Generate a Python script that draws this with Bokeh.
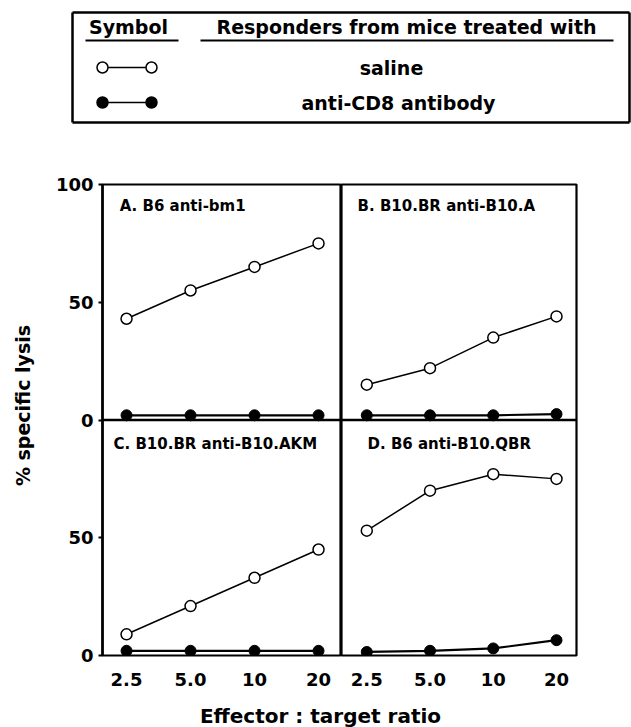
import math
from bokeh.plotting import figure
from bokeh.layouts import column, row
from bokeh.models import Range1d, FixedTicker, Label, Span
from bokeh.embed import file_html
from bokeh.resources import INLINE
from bokeh.core.properties import value

# ---------------- data ----------------
ratios = [2.5, 5, 10, 20]
tick_labels = ["2.5", "5.0", "10", "20"]
y_ticks = [0, 50, 100]
y_tick_labels = ["0", "50", "100"]
panel_titles = ["A. B6 anti-bm1", "B. B10.BR anti-B10.A",
                "C. B10.BR anti-B10.AKM", "D. B6 anti-B10.QBR"]
saline_A = [43, 55, 65, 75]
cd8_A = [2, 2, 2, 2]
saline_B = [15, 22, 35, 44]
cd8_B = [2, 2, 2, 2.5]
saline_C = [9, 21, 33, 45]
cd8_C = [2, 2, 2, 2]
saline_D = [53, 70, 77, 75]
cd8_D = [1.5, 2, 3, 6.5]
legend_labels = ["saline", "anti-CD8 antibody"]
legend_header = ["Symbol", "Responders from mice treated with"]
y_title = "% specific lysis"
x_title = "Effector : target ratio"

FONT = "DejaVu Sans"


def blank_fig(w, h, xr, yr):
    f = figure(width=w, height=h, x_range=xr, y_range=yr,
               toolbar_location=None, output_backend="svg",
               x_axis_location=None, y_axis_location=None,
               min_border=0, min_border_left=0, min_border_right=0,
               min_border_top=0, min_border_bottom=0)
    f.outline_line_color = None
    f.xgrid.visible = False
    f.ygrid.visible = False
    return f


# ---------------- legend table ----------------
leg = blank_fig(631, 130, Range1d(0, 631), Range1d(130, 0))
leg.segment(x0=[72, 72, 72, 629], y0=[12, 122, 12, 12],
            x1=[629, 629, 72, 629], y1=[12, 122, 122, 122],
            line_color="black", line_width=2.5)
leg.segment(x0=[85, 200], y0=[40, 40], x1=[178, 613], y1=[40, 40],
            line_color="black", line_width=2)
leg.text(x=[128, 406], y=[26, 26], text=legend_header,
         text_font=value(FONT), text_font_style="bold",
         text_font_size="19px", text_align="center",
         text_baseline="middle", text_color="black")
row_y = [67, 102]
leg.text(x=[391, 398], y=row_y, text=legend_labels,
         text_font=value(FONT), text_font_style="bold",
         text_font_size="19px", text_align="center",
         text_baseline="middle", text_color="black")
for yy, fill in zip(row_y, ["white", "black"]):
    leg.line([102, 151], [yy, yy], line_color="black", line_width=1.5)
    leg.scatter([102, 151], [yy, yy], marker="circle", size=11,
                fill_color=fill, line_color="black", line_width=1.5)

# ---------------- panel columns ----------------
# each column figure holds an upper panel (range "upper") and a lower
# panel (default range); both show 0..100 % lysis.
XR_LEFT = (1.927, 25.65)
XR_RIGHT = (1.895, 24.9)


def draw_series(f, sal, cd8, rname):
    f.line(ratios, cd8, line_color="black", line_width=2.2, y_range_name=rname)
    f.scatter(ratios, cd8, marker="circle", size=11, fill_color="black",
              line_color="black", line_width=1, y_range_name=rname)
    f.line(ratios, sal, line_color="black", line_width=1.5, y_range_name=rname)
    f.scatter(ratios, sal, marker="circle", size=11, fill_color="white",
              line_color="black", line_width=1.5, y_range_name=rname)


def column_fig(is_left, titles, sal_up, cd8_up, sal_lo, cd8_lo, lab_x, lab_y):
    xr = XR_LEFT if is_left else XR_RIGHT
    frame_w = 239 if is_left else 235
    bl = 62 if is_left else 0
    br = 0 if is_left else 55
    f = figure(width=bl + frame_w + br, height=54 + 474 + 30,
               x_axis_type="log",
               x_range=Range1d(*xr), y_range=Range1d(0, 200),
               toolbar_location=None, output_backend="svg",
               x_axis_location="below",
               y_axis_location="left" if is_left else None,
               min_border_left=bl, min_border_right=br,
               min_border_top=54, min_border_bottom=30)
    f.extra_y_ranges = {"upper": Range1d(-100, 100)}
    f.outline_line_color = "black"
    f.outline_line_width = 2.2
    f.xgrid.visible = False
    f.ygrid.visible = False
    f.add_layout(Span(location=100, dimension="width", line_color="black",
                      line_width=2.4))
    if is_left:
        ya = f.yaxis[0]
        lower_ticks = [t for t in y_ticks if t < 100]
        ticks = lower_ticks + [t + 100 for t in y_ticks]
        ya.ticker = FixedTicker(ticks=ticks)
        ov = {}
        for t, lab in zip(y_ticks, y_tick_labels):
            if t < 100:
                ov[t] = lab
                ov[str(t)] = lab
            ov[t + 100] = lab
            ov[str(t + 100)] = lab
        ya.major_label_overrides = ov
        ya.axis_line_width = 2.5
        ya.axis_line_color = "black"
        ya.major_tick_line_width = 2
        ya.major_tick_out = 4
        ya.major_tick_in = 0
        ya.minor_tick_line_color = None
        ya.major_label_standoff = 5
        ya.major_label_text_font = FONT
        ya.major_label_text_font_style = "bold"
        ya.major_label_text_font_size = "18px"
        ya.major_label_text_color = "black"
    xa = f.xaxis[0]
    xa.ticker = FixedTicker(ticks=ratios)
    xov = {}
    for r, t in zip(ratios, tick_labels):
        xov[r] = t
        xov[str(r)] = t
    xa.major_label_overrides = xov
    xa.axis_line_color = None
    xa.major_tick_line_color = None
    xa.minor_tick_line_color = None
    xa.major_label_standoff = 11
    xa.major_label_text_font = FONT
    xa.major_label_text_font_style = "bold"
    xa.major_label_text_font_size = "18px"
    xa.major_label_text_color = "black"

    draw_series(f, sal_up, cd8_up, "upper")
    draw_series(f, sal_lo, cd8_lo, "default")
    f.add_layout(Label(x=lab_x[0], y=91, y_range_name="upper", text=titles[0],
                       text_font=FONT, text_font_style="bold",
                       text_font_size="15px", text_align="left",
                       text_baseline="middle", text_color="black"))
    f.add_layout(Label(x=lab_x[1], y=90, text=titles[1],
                       text_font=FONT, text_font_style="bold",
                       text_font_size="15px", text_align="left",
                       text_baseline="middle", text_color="black"))
    return f


pL = column_fig(True, [panel_titles[0], panel_titles[2]],
                saline_A, cd8_A, saline_C, cd8_C, [2.32, 2.17], None)
pR = column_fig(False, [panel_titles[1], panel_titles[3]],
                saline_B, cd8_B, saline_D, cd8_D, [2.26, 2.52], None)

# ---------------- axis titles ----------------
ylab = blank_fig(40, 597, Range1d(0, 40), Range1d(597, 0))
ylab.text(x=[22], y=[275], text=[y_title], angle=math.pi / 2,
          text_font=value(FONT), text_font_style="bold",
          text_font_size="19px", text_align="center",
          text_baseline="middle", text_color="black")

xlab = blank_fig(591, 39, Range1d(0, 591), Range1d(39, 0))
xlab.text(x=[280], y=[27], text=[x_title],
          text_font=value(FONT), text_font_style="bold",
          text_font_size="20px", text_align="center",
          text_baseline="middle", text_color="black")

layout = column(
    leg,
    row(ylab, column(row(pL, pR), xlab)),
)

open("out.html", "w").write(file_html(layout, INLINE))
